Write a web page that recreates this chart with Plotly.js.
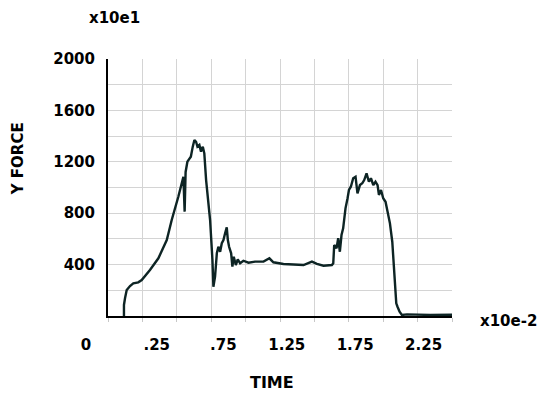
<!DOCTYPE html>
<html>
<head>
<meta charset="utf-8">
<script src="https://cdn.plot.ly/plotly-3.0.1.min.js"></script>
<style>html,body{margin:0;padding:0;background:#fff;}#chart{width:542px;height:394px;}</style>
</head>
<body>
<div id="chart"></div>
<script>
// Time (x10e-2, grid units of 0.25) and Y force (x10e1)
var timeValues = [0.116,0.116,0.124,0.136,0.160,0.184,0.220,0.245,0.305,0.366,0.427,0.463,0.511,0.548,0.557,0.564,0.577,0.602,0.616,0.628,0.640,0.650,0.664,0.676,0.689,0.700,0.713,0.730,0.742,0.759,0.766,0.778,0.791,0.802,0.815,0.827,0.839,0.851,0.863,0.871,0.880,0.895,0.904,0.914,0.929,0.943,0.960,0.984,1.021,1.069,1.130,1.173,1.202,1.275,1.348,1.421,1.482,1.518,1.566,1.627,1.637,1.644,1.661,1.673,1.685,1.697,1.709,1.726,1.741,1.751,1.765,1.782,1.799,1.813,1.831,1.848,1.862,1.879,1.896,1.911,1.928,1.944,1.959,1.969,1.984,2.000,2.017,2.032,2.049,2.066,2.075,2.088,2.095,2.104,2.119,2.136,2.173,2.342,2.500];
var forceValues = [0,86,140,202,233,254,262,280,358,449,591,747,928,1084,812,1121,1201,1240,1318,1370,1356,1318,1331,1279,1318,1266,1058,903,747,436,228,306,488,539,500,566,591,644,690,591,539,488,384,461,397,441,410,430,415,423,424,449,418,405,402,397,423,405,391,397,410,553,527,605,500,630,682,838,916,981,1006,1072,1084,955,1019,1033,1058,1110,1045,1072,1019,1045,1019,942,981,916,889,812,721,578,436,228,99,72,33,8,13,8,10];

var xTickLabels = ["0", ".25", ".75", "1.25", "1.75", "2.25"];
var yTickLabels = ["", "", "400", "", "800", "", "1200", "", "1600", "", "2000"];

var xLabelPos = [0.022, 0.536, 1.020, 1.481, 1.978, 2.475];
var xGrid = [];
for (var i = 0; i <= 10; i++) xGrid.push(i * 0.25);
var yGrid = [];
for (var j = 0; j <= 10; j++) yGrid.push(j * 200);

var FONT = "DejaVu Sans, Arial, sans-serif";
var gridColor = "#d4d4d4";

var trace = {
  x: timeValues,
  y: forceValues,
  type: "scatter",
  mode: "lines",
  line: {color: "#0d2424", width: 2.4},
  hoverinfo: "skip"
};

var layout = {
  width: 542,
  height: 394,
  margin: {l: 108, r: 90, t: 59, b: 78},
  paper_bgcolor: "#ffffff",
  plot_bgcolor: "#ffffff",
  showlegend: false,
  font: {family: FONT, color: "#000", size: 15},
  xaxis: {
    range: [0, 2.5],
    tickmode: "array",
    tickvals: xLabelPos,
    ticktext: xTickLabels,
    ticks: "",
    ticklabelshift: -25,
    ticklabelstandoff: 14,
    tickfont: {family: FONT, size: 15, color: "#000", weight: "bold"},
    showgrid: false,
    zeroline: false,
    showline: true,
    linecolor: "#000",
    linewidth: 1.5,
    minor: {
      tickmode: "array",
      tickvals: xGrid,
      showgrid: true,
      gridcolor: gridColor,
      gridwidth: 1,
      ticks: "outside",
      ticklen: 4,
      tickcolor: "#c8c8c8"
    },
    fixedrange: true
  },
  yaxis: {
    range: [0, 2000],
    tickmode: "array",
    tickvals: yGrid,
    ticktext: yTickLabels,
    ticks: "",
    ticklabelstandoff: 8,
    tickfont: {family: FONT, size: 15, color: "#000", weight: "bold"},
    showgrid: true,
    gridcolor: gridColor,
    gridwidth: 1,
    zeroline: false,
    showline: true,
    linecolor: "#000",
    linewidth: 2,
    fixedrange: true
  },
  annotations: [
    {text: "x10e1", xref: "paper", yref: "paper", x: 0.02, y: 1, xshift: 0, yshift: 41,
     xanchor: "center", yanchor: "middle", showarrow: false,
     font: {family: FONT, size: 15, weight: "bold", color: "#000"}},
    {text: "Y FORCE", xref: "paper", yref: "paper", x: 0, y: 0.61, xshift: -90,
     xanchor: "center", yanchor: "middle", textangle: -90, showarrow: false,
     font: {family: FONT, size: 15, weight: "bold", color: "#000"}},
    {text: "TIME", xref: "paper", yref: "paper", x: 0.477, y: 0, yshift: -66,
     xanchor: "center", yanchor: "middle", showarrow: false,
     font: {family: FONT, size: 16, weight: "bold", color: "#000"}},
    {text: "x10e-2", xref: "paper", yref: "paper", x: 1, y: 0, xshift: 56, yshift: -5,
     xanchor: "center", yanchor: "middle", showarrow: false,
     font: {family: FONT, size: 15, weight: "bold", color: "#000"}}
  ]
};

Plotly.newPlot("chart", [trace], layout, {staticPlot: true, displayModeBar: false});
</script>
</body>
</html>
